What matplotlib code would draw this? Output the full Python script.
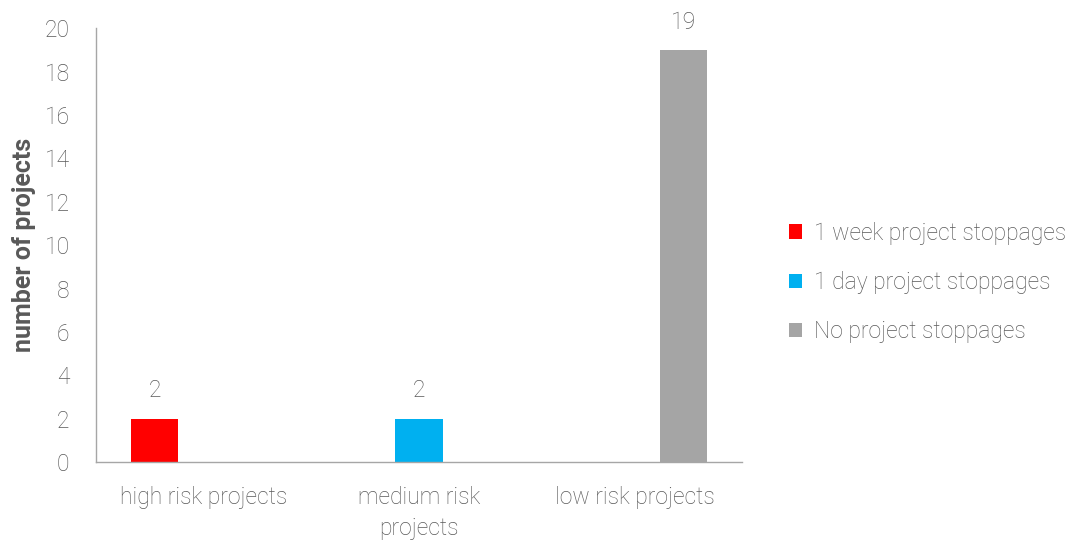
import matplotlib
matplotlib.use("Agg")
import matplotlib.pyplot as plt
import numpy as np
from matplotlib.patches import Patch

categories = ["high risk projects", "medium risk\nprojects", "low risk projects"]
series_names = ["1 week project stoppages", "1 day project stoppages", "No project stoppages"]
week_stops = [2, 0, 0]
day_stops = [0, 2, 0]
no_stops = [0, 0, 19]
colors = ["#FF0000", "#00B0F0", "#A5A5A5"]
yticks = [0, 2, 4, 6, 8, 10, 12, 14, 16, 18, 20]

text_color = "#595959"
fs = 16.5
plt.rcParams["font.family"] = ["Roboto", "DejaVu Sans"]
plt.rcParams["font.weight"] = "light"

fig = plt.figure(figsize=(10.77, 5.43), dpi=100)
ax = fig.add_axes([0.0891, 0.149, 0.6, 0.799])

x = np.arange(len(categories))
width = 0.22
offset = 0.228
for i, (vals, col) in enumerate(zip([week_stops, day_stops, no_stops], colors)):
    pos = x + (i - 1) * offset
    bars = ax.bar(pos, vals, width=width, color=col, zorder=2)
    for b, v in zip(bars, vals):
        if v:
            ax.text(b.get_x() + b.get_width() / 2, v + 0.75, f"{v}",
                    ha="center", va="bottom", fontsize=fs, color=text_color)

ax.set_xlim(-0.5, 2.5)
ax.set_ylim(0, 20)
ax.set_yticks(yticks)
ax.set_xticks(x)
ax.set_xticklabels(categories, fontsize=fs, color=text_color, linespacing=1.45)
ax.tick_params(axis="y", labelsize=fs, labelcolor=text_color, length=0, pad=19)
ax.tick_params(axis="x", length=0, pad=17)
for s in ["top", "right"]:
    ax.spines[s].set_visible(False)
for s in ["left", "bottom"]:
    ax.spines[s].set_color("#A6A6A6")
    ax.spines[s].set_linewidth(1.0)
ax.set_ylabel("number of projects", fontsize=18, fontweight="bold", color=text_color, labelpad=6)

handles = [Patch(facecolor=c, edgecolor="none") for c in colors]
fig.legend(handles, series_names, loc="center left", bbox_to_anchor=(0.713, 0.48),
           frameon=False, fontsize=fs, labelcolor=text_color,
           handlelength=0.6, handleheight=0.6, handletextpad=0.5, labelspacing=1.15)

fig.savefig("out.png", dpi=100)
